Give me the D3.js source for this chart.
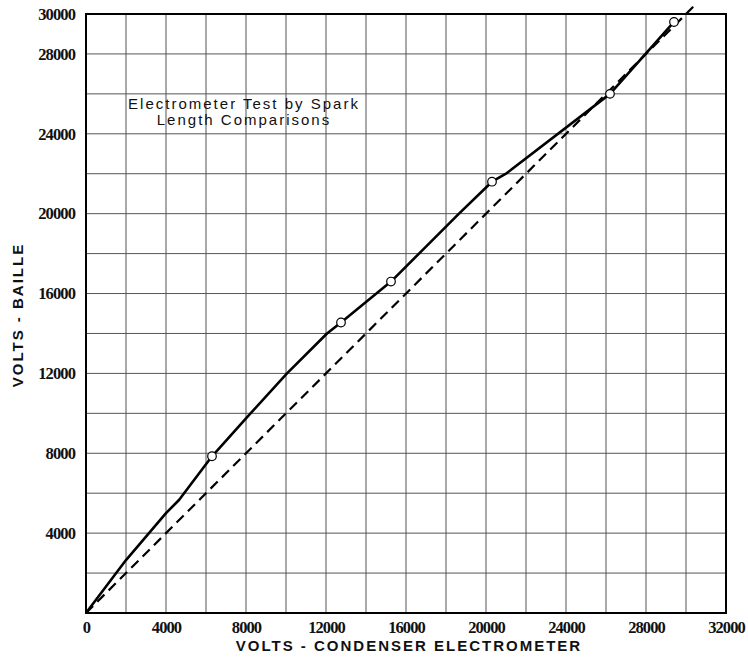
<!DOCTYPE html>
<html>
<head>
<meta charset="utf-8">
<script src="https://cdn.jsdelivr.net/npm/d3@7"></script>
<style>
  html, body { margin: 0; padding: 0; background: #fff; }
  svg { display: block; }
</style>
</head>
<body>
<svg id="chart" width="748" height="660"></svg>
<script>
// ---- data ----
const titleLines = ["Electrometer Test by Spark", "Length Comparisons"];
const xTickValues = [0, 4000, 8000, 12000, 16000, 20000, 24000, 28000, 32000];
const yTickValues = [4000, 8000, 12000, 16000, 20000, 24000, 28000, 30000];
const gridStep = 2000;
// measured curve (solid line) vertices
const solidX = [0, 2000, 4000, 4650, 6300, 8000, 10050, 12050, 12750, 15250, 16650, 18650, 20300, 21000, 26200, 29400];
const solidY = [0, 2650, 5000, 5660, 7850, 9750, 12000, 14000, 14550, 16600, 18000, 20000, 21600, 22000, 26000, 29600];
// observed points (circles)
const pointX = [6300, 12750, 15250, 20300, 26200, 29400];
const pointY = [7850, 14550, 16600, 21600, 26000, 29600];
// reference line (dashed), equal voltages
const refX = [0, 30400];
const refY = [0, 30400];

(function () {
// ---- layout ----
const svg = d3.select("#chart");
const pL = 86, pR = 726, pT = 14, pB = 613;
const x = d3.scaleLinear().domain([0, 32000]).range([pL, pR]);
const y = d3.scaleLinear().domain([0, 30000]).range([pB, pT]);

// grid
const g = svg.append("g");
const xGrid = d3.range(0, 32000 + 1, gridStep);
const yGrid = d3.range(0, 30000 + 1, gridStep);
g.selectAll("line.vg").data(xGrid).enter().append("line")
  .attr("x1", d => x(d)).attr("x2", d => x(d))
  .attr("y1", pT).attr("y2", pB)
  .attr("stroke", "#555").attr("stroke-width", 1);
g.selectAll("line.hg").data(yGrid).enter().append("line")
  .attr("y1", d => y(d)).attr("y2", d => y(d))
  .attr("x1", pL).attr("x2", pR)
  .attr("stroke", "#555").attr("stroke-width", 1);

// frame
svg.append("rect").attr("x", pL).attr("y", pT)
  .attr("width", pR - pL).attr("height", pB - pT)
  .attr("fill", "none").attr("stroke", "#000").attr("stroke-width", 2);

// axes (labels only)
const tickFont = "'Liberation Serif', 'DejaVu Serif', serif";
const xAxis = d3.axisBottom(x).tickValues(xTickValues).tickSize(0).tickPadding(8).tickFormat(d3.format("d"));
const xa = svg.append("g").attr("transform", `translate(0,${pB})`).call(xAxis);
xa.select(".domain").remove();
xa.selectAll("text").attr("font-family", tickFont).attr("font-size", 16.5)
  .attr("font-weight", "bold").attr("fill", "#111").attr("letter-spacing", -0.9);

const yAxis = d3.axisLeft(y).tickValues(yTickValues).tickSize(0).tickPadding(11).tickFormat(d3.format("d"));
const ya = svg.append("g").attr("transform", `translate(${pL},0)`).call(yAxis);
ya.select(".domain").remove();
ya.selectAll("text").attr("font-family", tickFont).attr("font-size", 16.5)
  .attr("font-weight", "bold").attr("fill", "#111").attr("letter-spacing", -0.9);

// lines
const lineGen = d3.line().x(d => x(d[0])).y(d => y(d[1]));
svg.append("path").datum(refX.map((v, i) => [v, refY[i]]))
  .attr("d", lineGen).attr("fill", "none").attr("stroke", "#000")
  .attr("stroke-width", 2.2).attr("stroke-dasharray", "10,6");
svg.append("path").datum(solidX.map((v, i) => [v, solidY[i]]))
  .attr("d", lineGen).attr("fill", "none").attr("stroke", "#000")
  .attr("stroke-width", 2.6).attr("stroke-linejoin", "round");

svg.selectAll("circle.pt").data(pointX.map((v, i) => [v, pointY[i]])).enter()
  .append("circle").attr("cx", d => x(d[0])).attr("cy", d => y(d[1]))
  .attr("r", 4.3).attr("fill", "#fff").attr("stroke", "#000").attr("stroke-width", 1.2);

// inset title
const sans = "'Liberation Sans', Arial, sans-serif";
svg.selectAll("text.ttl").data(titleLines).enter().append("text")
  .attr("x", 244).attr("y", (d, i) => 109 + i * 16)
  .attr("text-anchor", "middle").attr("font-family", sans)
  .attr("font-size", 15).attr("letter-spacing", 2).attr("fill", "#111")
  .text(d => d);

// axis titles
svg.append("text").attr("x", 409).attr("y", 651).attr("text-anchor", "middle")
  .attr("font-family", sans).attr("font-weight", "bold").attr("font-size", 15)
  .attr("letter-spacing", 2).attr("fill", "#111")
  .text("VOLTS - CONDENSER ELECTROMETER");
svg.append("text").attr("transform", "translate(23,315) rotate(-90)")
  .attr("text-anchor", "middle")
  .attr("font-family", sans).attr("font-weight", "bold").attr("font-size", 15)
  .attr("letter-spacing", 2).attr("fill", "#111")
  .text("VOLTS - BAILLE");
})();
</script>
</body>
</html>
